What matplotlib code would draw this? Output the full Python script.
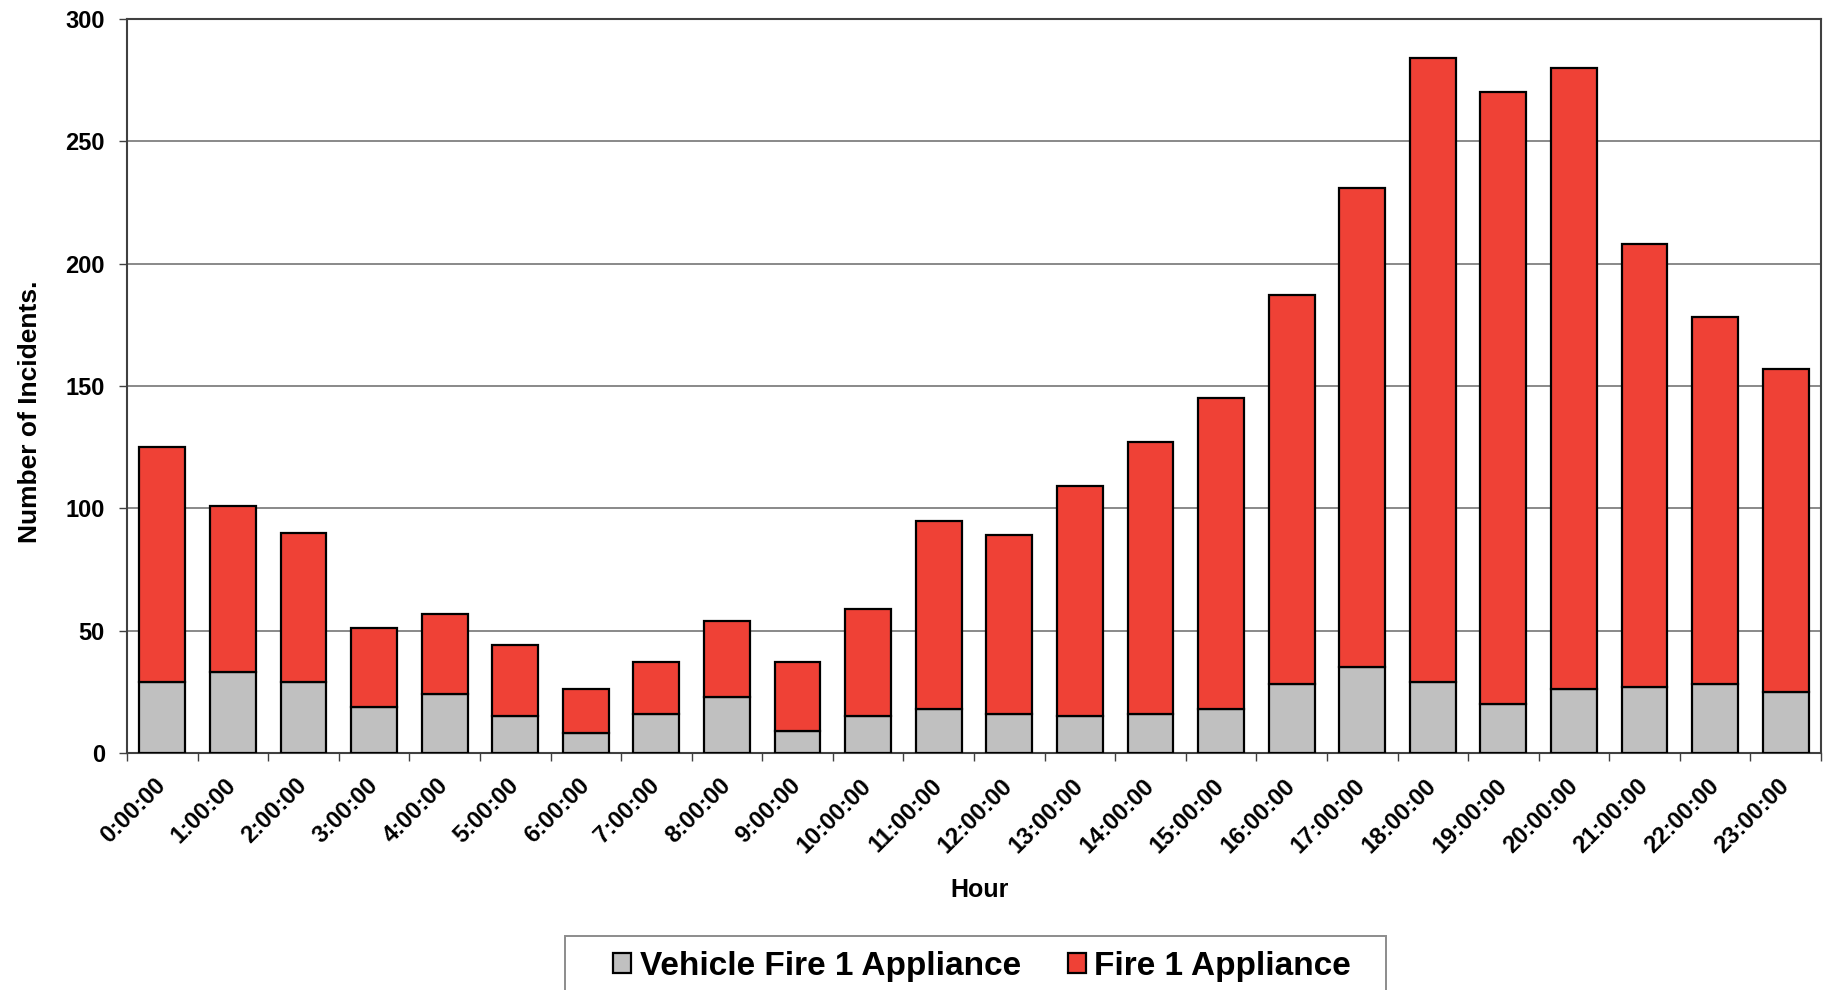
import matplotlib
matplotlib.use("Agg")
import matplotlib.pyplot as plt
import numpy as np
from matplotlib.patches import Rectangle

plt.rcParams['font.family'] = ['Liberation Sans', 'DejaVu Sans']
plt.rcParams['font.weight'] = 'bold'

# data
hours = ["%d:00:00" % h for h in range(24)]
vehicle_fire = [29, 33, 29, 19, 24, 15, 8, 16, 23, 9, 15, 18,
                16, 15, 16, 18, 28, 35, 29, 20, 26, 27, 28, 25]
totals = [125, 101, 90, 51, 57, 44, 26, 37, 54, 37, 59, 95,
          89, 109, 127, 145, 187, 231, 284, 270, 280, 208, 178, 157]
fire = [t - v for t, v in zip(totals, vehicle_fire)]

W, H = 1823, 990
fig = plt.figure(figsize=(W / 100, H / 100), dpi=100)
ax = fig.add_axes([127 / W, 1 - 753 / H, (1821 - 127) / W, (753 - 19) / H])

x = np.arange(len(hours))
ax.bar(x, vehicle_fire, width=0.65, color='#c0c0c0', edgecolor='black',
       linewidth=1.6, label='Vehicle Fire 1 Appliance', zorder=3)
ax.bar(x, fire, width=0.65, bottom=vehicle_fire, color='#ef4136',
       edgecolor='black', linewidth=1.6, label='Fire 1 Appliance', zorder=3)

ax.set_xlim(-0.5, len(hours) - 0.5)
ax.set_ylim(0, 300)
ax.set_yticks(range(0, 301, 50))
ax.yaxis.grid(True, color='#808080', linewidth=1.3, zorder=0)
ax.set_axisbelow(True)

for s in ax.spines.values():
    s.set_color('#404040')
    s.set_linewidth(1.5)

ax.tick_params(axis='y', length=6, width=1, color='#404040', pad=10, labelsize=17)
ax.set_xticks(x)
ax.set_xticklabels(hours, rotation=45, ha='right', va='center',
                   rotation_mode='anchor', fontsize=17)
ax.tick_params(axis='x', length=0, pad=21)
ax.set_xticks(np.arange(-0.5, len(hours), 1), minor=True)
ax.tick_params(axis='x', which='minor', length=6, width=1, color='#404040')

ax.set_ylabel("Number of Incidents.", fontsize=19, fontweight='bold')
ax.yaxis.set_label_coords(-0.05, 0.465)
fig.text(980 / W, 1 - 890 / H, "Hour", ha='center', va='center',
         fontsize=18, fontweight='bold')

# legend box at the bottom (runs off the lower edge like the original)
fig.patches.append(Rectangle((565 / W, -0.02), (1386 - 565) / W, (990 - 936) / H + 0.02,
                             transform=fig.transFigure, fill=False,
                             edgecolor='#8c8c8c', linewidth=1.4))
leg = fig.legend(loc='center', bbox_to_anchor=(982 / W, 1 - 966 / H), ncol=2,
                 frameon=False, fontsize=24, handlelength=0.55, handleheight=0.55,
                 handletextpad=0.25, columnspacing=1.4, borderpad=0)

fig.savefig("out.png", dpi=100)
